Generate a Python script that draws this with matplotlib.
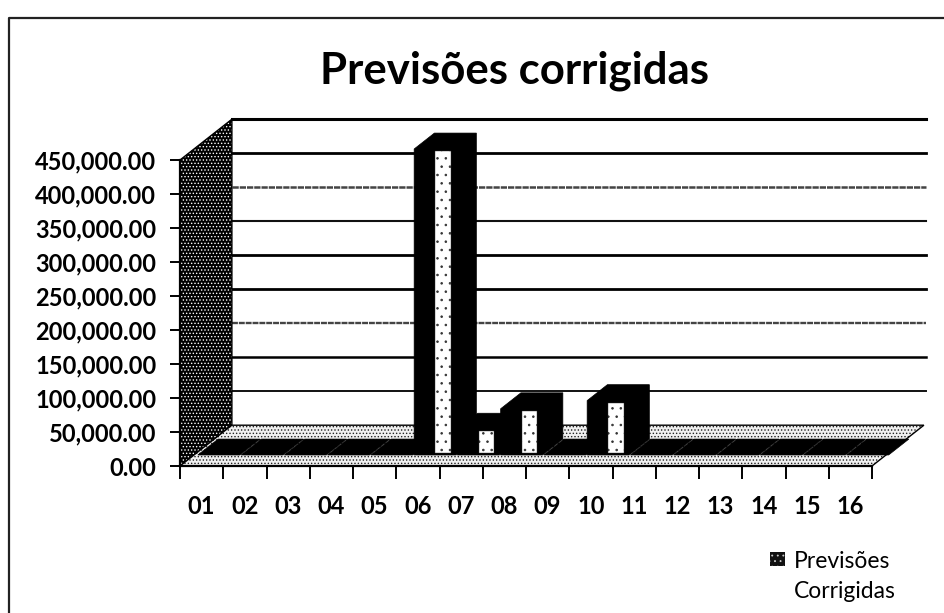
import matplotlib
matplotlib.use("Agg")
import matplotlib.pyplot as plt
from matplotlib.patches import Polygon, Rectangle
from matplotlib.lines import Line2D

plt.rcParams['hatch.linewidth'] = 0.6

categories = ['01','02','03','04','05','06','07','08','09','10','11','12','13','14','15','16']
values = [0,0,0,0,0,450000,38000,68000,0,80000,0,0,0,0,0,0]
y_ticks = [0,50000,100000,150000,200000,250000,300000,350000,400000,450000]
title = 'Previsões corrigidas'
legend_lines = ['Previsões', 'Corrigidas']

W, H = 944, 613
fig = plt.figure(figsize=(W/100, H/100), dpi=100, facecolor='white')
L, R, T, B = 180, 872, 160, 466
ax = fig.add_axes([L/W, 1-B/H, (R-L)/W, (B-T)/H])
ax.set_xlim(0, 16)
ax.set_ylim(0, 450000)
ax.patch.set_alpha(0)
for s in ax.spines.values():
    s.set_visible(False)

FONT = 'Lato'
DX, DY = 1.2, 60000   # chart depth in data units

def clip(p):
    p.set_clip_on(False)
    ax.add_patch(p)

# back wall
clip(Polygon([(DX,DY),(16+DX,DY),(16+DX,450000+DY),(DX,450000+DY)], fc='white', ec='none', zorder=1))
styles = {50000:(1.4,'#111'),100000:(1.8,'k'),150000:(1.7,'#444'),200000:(2,'k'),250000:(2,'k'),
          300000:(1.5,'#111'),350000:(1.8,'#444'),400000:(2,'k'),450000:(2.2,'k')}
for v in y_ticks[1:]:
    lw, c = styles[v]
    ax.plot([DX,16+DX*1.04],[v+DY,v+DY], color=c, lw=lw, clip_on=False, zorder=1.5,
            ls=(0,(2.5,0.4)) if c=='#444' else '-')

# left wall
clip(Polygon([(0,0),(DX,DY),(DX,450000+DY),(0,450000)], fc='k', ec='white', hatch='.....', lw=0, zorder=2))
clip(Polygon([(0,0),(DX,DY),(DX,450000+DY),(0,450000)], fc='none', ec='k', lw=1, zorder=2.1))

# floor
clip(Polygon([(0,0),(16,0),(16+DX,DY),(DX,DY)], fc='#f0f0f0', ec='#222', hatch='.....', lw=0, zorder=2.2))
clip(Polygon([(0,0),(16,0),(16+DX,DY),(DX,DY)], fc='none', ec='k', lw=1, zorder=2.3))

# bars
DEPTH0, DEPTH1 = 0.27, 0.66
OFF, WID = 0.09, 0.97
for i, v in enumerate(values):
    x0 = i + OFF + DEPTH0*DX
    x1 = x0 + WID
    y0 = DEPTH0*DY
    ddx = (DEPTH1-DEPTH0)*DX
    ddy = (DEPTH1-DEPTH0)*DY
    z = 3 + i*0.01
    clip(Polygon([(x0,y0),(x1,y0),(x1+ddx,y0+ddy),(x1+ddx,y0+ddy+v),(x0+ddx,y0+ddy+v),(x0,y0+v)],
                 fc='k', ec='k', lw=0.5, zorder=z))
    if v > 0:
        clip(Rectangle((x0+0.49, y0+3000), 0.36, v-3000-3000, fc='white', ec='#333', lw=0.3,
                       hatch='..', zorder=z+0.001))

# axes ticks and labels
ax.spines['left'].set_visible(True)
ax.spines['left'].set_linewidth(1.6)
ax.spines['bottom'].set_visible(True)
ax.spines['bottom'].set_linewidth(1.6)
ax.set_yticks(y_ticks)
ax.set_yticklabels([f'{v:,.2f}' for v in y_ticks], fontsize=17, fontfamily=FONT, fontweight='bold')
ax.set_xticks(range(17))
ax.set_xticklabels([])
ax.set_xticks([i+0.5 for i in range(16)], minor=True)
ax.set_xticklabels(categories, minor=True, fontsize=17, fontfamily=FONT, fontweight='bold')
ax.tick_params(axis='y', length=7, width=1.4, pad=10, zorder=5)
ax.tick_params(axis='x', which='major', length=9, width=1.4)
ax.tick_params(axis='x', which='minor', length=0, pad=21)

# title
fig.text(515/W, 1-71/H, title, ha='center', va='center', fontsize=31.5, fontweight='bold', fontfamily=FONT)

# legend
fig.patches.append(Rectangle((770/W, 1-566/H), 15/W, 14/H, transform=fig.transFigure, fc='#111', ec='#ccc', hatch='...', lw=0))
fig.text(794/W, 1-561/H, legend_lines[0], ha='left', va='center', fontsize=16.5, fontfamily=FONT)
fig.text(794/W, 1-592/H, legend_lines[1], ha='left', va='center', fontsize=16.5, fontfamily=FONT)

# frame
fig.add_artist(Line2D([9/W, 9/W, 944/W], [0, 1-18/H, 1-18/H], color='#222', lw=1.6, transform=fig.transFigure))

fig.savefig('out.png', dpi=100)
